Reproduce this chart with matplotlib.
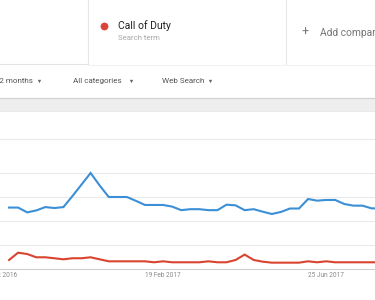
import datetime as dt
import matplotlib
matplotlib.use("Agg")
import matplotlib.pyplot as plt
import matplotlib.dates as mdates

plt.rcParams['font.family'] = ['Roboto', 'DejaVu Sans']

# ---- data (weekly Google Trends interest, 0-100) ----
start_date = dt.date(2016, 10, 23)
n_weeks = 42
blue_values = [64, 64, 59, 61, 64.5, 63.5, 64.5, 76, 88, 100, 87, 75, 75, 75, 71,
               66.7, 66.7, 66.7, 65, 61.3, 62.3, 62.3, 61.3, 61.3, 67, 66.3, 61.3,
               62.3, 59.7, 57.3, 59.4, 63, 63, 72.9, 71.2, 71.9, 71.9, 67.7, 66,
               66, 63.2, 63]
red_values = [9.4, 17, 15.6, 12.2, 12.2, 11.2, 10.1, 11.2, 11.2, 12.2, 10.1, 8, 8,
              8, 8, 8, 7, 8, 7, 7, 7, 7, 8, 7, 7, 9.4, 15, 9.4, 7.6, 6.6, 6.6,
              6.6, 6.6, 8, 7, 8, 7, 7, 7, 7, 7, 7]
tick_dates = [dt.date(2016, 10, 16), dt.date(2017, 2, 19), dt.date(2017, 6, 25)]
tick_labels = ['16 Oct 2016', '19 Feb 2017', '25 Jun 2017']
search_term = 'Call of Duty'
filters = ['Past 12 months', 'All categories', 'Web Search']

dates = [start_date + dt.timedelta(weeks=i) for i in range(n_weeks)]
date_nums = [mdates.date2num(d) for d in dates]

BLUE = '#3b8fd6'
RED = '#d8442f'

W, H = 375, 300
fig = plt.figure(figsize=(W / 100, H / 100), dpi=100)
fig.patch.set_facecolor('white')

# ---- chart axes ----
y_axis_px = 269
y_top_px = 111
ax = fig.add_axes([0, (H - y_axis_px) / H, 1, (y_axis_px - y_top_px) / H])
ax.patch.set_alpha(0)
ax.plot(date_nums, blue_values, color=BLUE, lw=1.5, solid_joinstyle='miter')
ax.plot(date_nums, red_values, color=RED, lw=1.5, solid_joinstyle='miter')

px_per_unit = 0.96
ax.set_ylim(0, (y_axis_px - y_top_px) / px_per_unit)
px_per_week = 9.28
d0 = mdates.date2num(start_date)
ax.set_xlim(d0 + 7 * (-0.2 / px_per_week), d0 + 7 * ((W - 0.2) / px_per_week))
ax.set_yticks([25, 50, 75, 100])
ax.yaxis.grid(True, color='#eaeaea', lw=0.8)
ax.tick_params(axis='y', length=0, labelleft=False)
ax.set_xticks([mdates.date2num(d) for d in tick_dates])
ax.set_xticklabels(tick_labels)
ax.tick_params(axis='x', length=0, pad=2.3, labelsize=4.7, labelcolor='#8a8a8a')
for s in ['top', 'left', 'right']:
    ax.spines[s].set_visible(False)
ax.spines['bottom'].set_color('#cfcfcf')
ax.spines['bottom'].set_linewidth(0.8)
ax.set_axisbelow(True)

# ---- overlay for header (pixel coords) ----
ov = fig.add_axes([0, 0, 1, 1], zorder=-1)
ov.set_xlim(0, W)
ov.set_ylim(H, 0)
ov.axis('off')

# top gridline
ov.plot([0, W], [139, 139], color='#eaeaea', lw=0.8)
# band under filter row
ov.fill_between([0, W], 98, 110.5, color='#eeeeee', lw=0)
ov.plot([0, W], [98, 98], color='#d2d2d2', lw=0.9)
ov.plot([0, W], [110.5, 110.5], color='#e6e6e6', lw=0.6)
# header panel dividers
ov.plot([87.5, 87.5], [0, 64], color='#e6e6e6', lw=0.8)
ov.plot([286, 286], [0, 64], color='#e6e6e6', lw=0.8)
ov.plot([0, 87.5], [64, 64], color='#e3e3e3', lw=0.8)
ov.plot([87.5, W], [64.5, 64.5], color='#f2f2f2', lw=0.8)

# search term card
ov.plot([103.5], [26], 'o', ms=5.6, color='#db4437', mec='none')
ov.text(118, 26, search_term, fontsize=7.5, color='#222222', va='center', ha='left')
ov.text(118, 38.5, 'Search term', fontsize=5.6, color='#a8a8a8', va='center', ha='left')
ov.text(305, 32, '+', fontsize=9, color='#777777', va='center', ha='center')
ov.text(319.5, 33, 'Add comparison', fontsize=7.4, color='#757575', va='center', ha='left')

# filter row
ov.text(33, 81, filters[0], fontsize=5.8, color='#555555', va='center', ha='right')
ov.plot([39], [81], marker='v', ms=2.4, color='#666666', mec='none')
ov.text(73, 81, filters[1], fontsize=5.8, color='#555555', va='center', ha='left')
ov.plot([131], [81], marker='v', ms=2.4, color='#666666', mec='none')
ov.text(162, 81, filters[2], fontsize=5.8, color='#555555', va='center', ha='left')
ov.plot([210], [81], marker='v', ms=2.4, color='#666666', mec='none')

fig.savefig('out.png', dpi=100)
